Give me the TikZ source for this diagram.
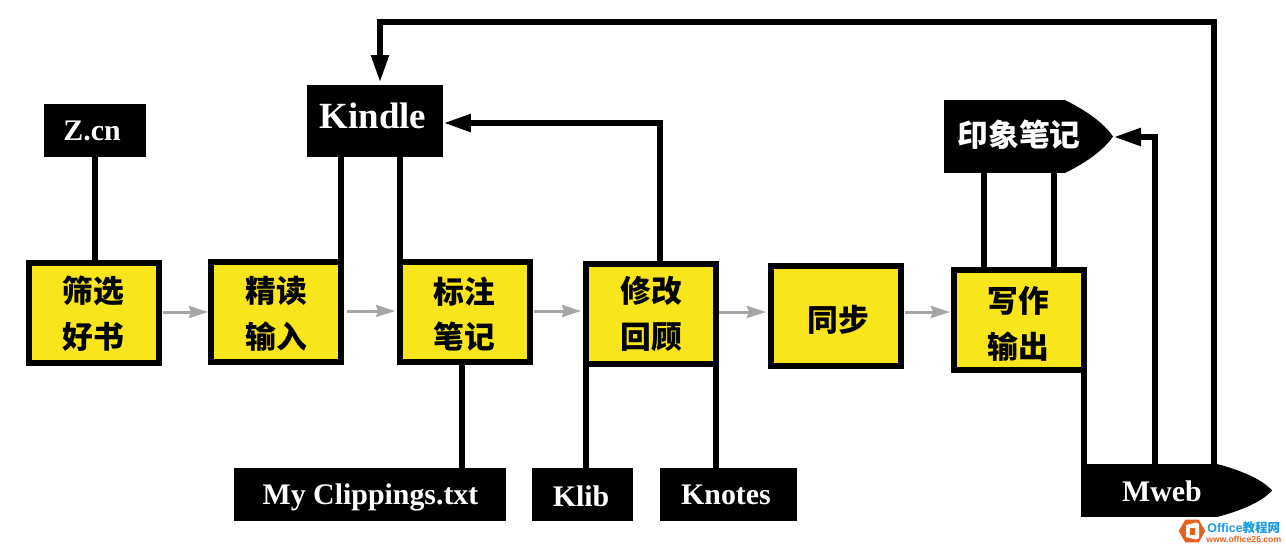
\documentclass[tikz,border=0pt]{standalone}
\usepackage{fontspec}
\setmainfont{Liberation Serif}
\newfontfamily\cjk{Noto Sans CJK SC}
\newfontfamily\marksans{Liberation Sans}
\usepackage{xcolor}
\usetikzlibrary{arrows.meta, shapes.geometric, positioning, calc}

\definecolor{boxyellow}{HTML}{F9E51C}
\definecolor{flowgray}{HTML}{A6A6A6}
\definecolor{markorange}{HTML}{E8601C}
\definecolor{markblue}{HTML}{1B9BE0}

\tikzset{
  stepbox/.style={draw=black, fill=boxyellow, line width=.12cm, minimum width=2.6cm, minimum height=2cm,
    inner sep=0pt, outer sep=0pt},
  stepword/.style={inner sep=0pt, align=center, font=\cjk\bfseries\fontsize{17.5}{26}\selectfont},
  toolbox/.style={fill=black, text=white, inner sep=0pt, outer sep=0pt, minimum height=1.06cm},
  toollabel/.style={text=white, inner sep=0pt, font=\bfseries\fontsize{17}{20}\selectfont},
  link/.style={line width=.13cm, draw=black},
  feed/.style={line width=.13cm, draw=black, -{Triangle[length=.56cm, width=.33cm]}},
  flow/.style={line width=.06cm, draw=flowgray, -{Stealth[length=.38cm, width=.24cm, inset=.04cm]}}
}

\begin{document}
\begin{tikzpicture}[x=.02cm, y=-.02cm]
\useasboundingbox (0,0) rectangle (1286,549);

% Main steps
\node[stepbox] (shaixuan) at (94,313) {};
\node[stepbox] (jingdu) at (276,312) {};
\node[stepbox] (biaozhu) at (465,312) {};
\node[stepbox] (xiugai) at (651,314) {};
\node[stepbox] (tongbu) at (836,316) {};
\node[stepbox] (xiezuo) at (1019,320) {};
\node[stepword] (shaixuanword) at (93,314) {筛选\\好书};
\node[stepword] (jingduword) at (276,314) {精读\\输入};
\node[stepword] (biaozhuword) at (464,314) {标注\\笔记};
\node[stepword] (xiugaiword) at (651,314) {修改\\回顾};
\node[stepword] (tongbuword) at (838,320) {同步};
\node[stepword] (xiezuoword) at (1018,324) {写作\\输出};

% Tools
\node[toolbox, minimum width=2.04cm] (zcn) at (95,130.5) {};
\node[toolbox, minimum width=2.72cm, minimum height=1.44cm] (kindle) at (375,121) {};
\node[toolbox, minimum width=5.44cm] (clippings) at (370,494.5) {};
\node[toolbox, minimum width=2.02cm] (klib) at (582.5,494.5) {};
\node[toolbox, minimum width=2.74cm] (knotes) at (728.5,494.5) {};
\node[toollabel] (zcntext) at (92,131) {Z.cn};
\node[toollabel, font=\bfseries\fontsize{21}{24}\selectfont] (kindletext) at (373,116) {Kindle};
\node[toollabel] (clippingstext) at (370.5,497) {My Clippings.txt};
\node[toollabel] (klibtext) at (581,496) {Klib};
\node[toollabel] (knotestext) at (726,495) {Knotes};

% Pointed tools
\node[toolbox, minimum width=2.42cm, minimum height=1.46cm] (yinxiang) at (1004.5,136.5) {};
\fill (yinxiang.north east) .. controls (1085,110) and (1103,122) .. (1113,136.5)
  .. controls (1103,151) and (1085,163) .. (yinxiang.south east) -- cycle;
\node[toollabel, font=\cjk\bfseries\fontsize{17.5}{20}\selectfont] (yinxiangtext) at (1019,135) {印象笔记};
\node[toolbox, minimum width=2.72cm] (mweb) at (1149,490.5) {};
\fill (mweb.north east) .. controls (1240,470) and (1262,479) .. (1272,490.5)
  .. controls (1262,502) and (1240,511) .. (mweb.south east) -- cycle;
\node[toollabel] (mwebtext) at (1162,491) {Mweb};

% Step flow
\draw[flow] ($(shaixuan.east |- 0,312)+(4,0)$) -- ($(jingdu.west |- 0,312)+(-3,0)$);
\draw[flow] ($(jingdu.east |- 0,311)+(6,0)$) -- ($(biaozhu.west |- 0,311)+(-5,0)$);
\draw[flow] ($(biaozhu.east |- 0,311)+(4,0)$) -- ($(xiugai.west |- 0,311)+(-5,0)$);
\draw[flow] ($(xiugai.east |- 0,312)+(3,0)$) -- ($(tongbu.west |- 0,312)+(-5,0)$);
\draw[flow] ($(tongbu.east |- 0,312)+(4,0)$) -- ($(xiezuo.west |- 0,312)+(-4,0)$);

% Plain links
\draw[link] (zcn.south) -- (zcn.south |- shaixuan.north);
\draw[link] (jingdu.north east) -- (jingdu.north east |- kindle.south);
\draw[link] (biaozhu.north west) -- (biaozhu.north west |- kindle.south);
\draw[link] ($(biaozhu.south)+(-3,0)$) -- ($(biaozhu.south |- clippings.north)+(-3,0)$);
\draw[link] (xiugai.south west) -- (xiugai.south west |- klib.north);
\draw[link] (xiugai.south east) -- (xiugai.south east |- knotes.north);
\draw[link] ($(xiezuo.north west)+(30,0)$) -- ($(xiezuo.north west |- yinxiang.south)+(30,0)$);
\draw[link] ($(xiezuo.north east)+(-30,0)$) -- ($(xiezuo.north east |- yinxiang.south)+(-30,0)$);
\draw[link] (xiezuo.south east) -- (xiezuo.south east |- mweb.north);

% Arrows back
\coordinate (mwebin) at (1155,464);
\coordinate (mwebout) at (1214,464);
\coordinate (yinxiangtip) at (1113,137);
\coordinate (kindletop) at (380,83);
\draw[feed] ($(xiugai.north)+(9,0)$) |- ($(kindle.east)+(0,2)$);
\draw[feed] (mwebin) |- (yinxiangtip);
\draw[feed] (mwebout) -- (1214,22) -| (kindletop);

% Site mark
\node[regular polygon, regular polygon sides=6, fill=markorange, minimum size=.53cm, inner sep=0pt] (logo) at (1192,531) {};
\fill[white] (1186,525) -- (1196,522.5) -- (1199,524) -- (1199,538) -- (1196,539.5) -- (1186,537) -- cycle;
\fill[markorange] (1190,527.5) rectangle (1195,534.5);
\node[anchor=west, inner sep=0pt, text=markblue, font=\marksans\bfseries\fontsize{7.1}{9}\selectfont] (marka) at (1207,527.5) {Office{\cjk 教程网}};
\node[anchor=west, inner sep=0pt, text=markorange, font=\marksans\bfseries\fontsize{4.9}{6}\selectfont] (markb) at (1206,539) {www.office26.com};
\end{tikzpicture}
\end{document}
